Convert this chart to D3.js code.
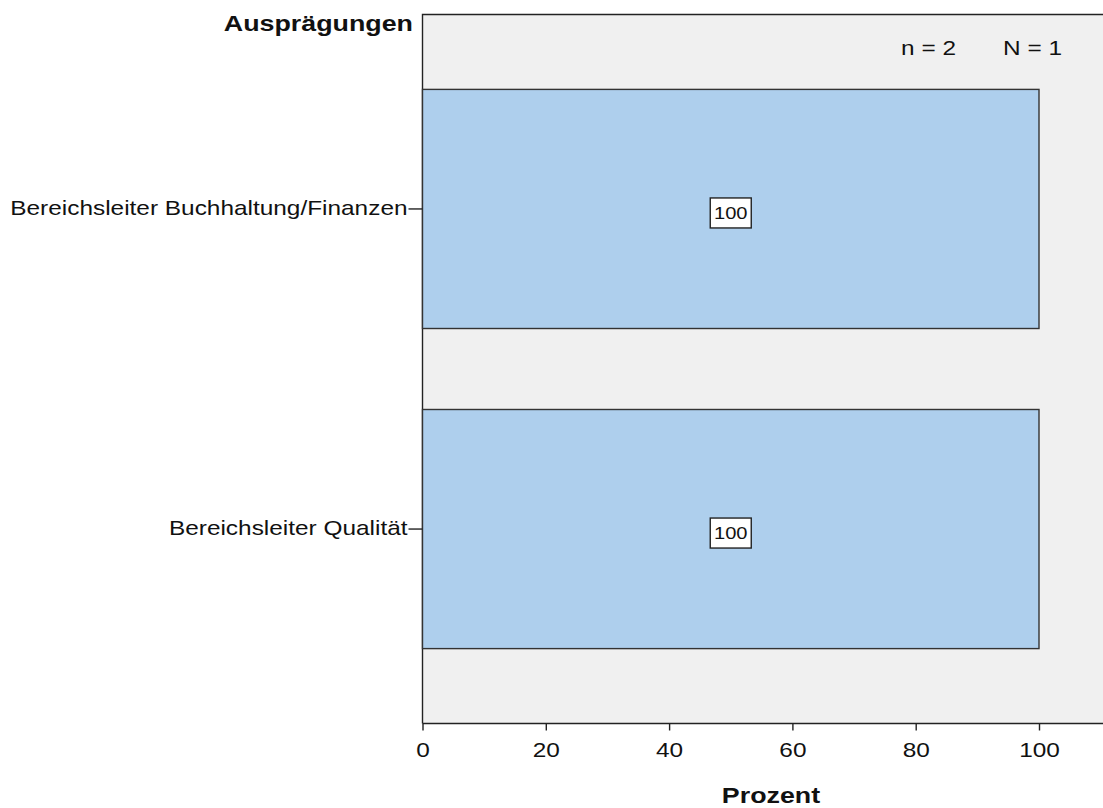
<!DOCTYPE html>
<html>
<head>
<meta charset="utf-8">
<script src="https://cdn.jsdelivr.net/npm/d3@7"></script>
<style>
  html, body { margin: 0; padding: 0; background: #fff; }
  svg { display: block; font-family: "Liberation Sans", Arial, sans-serif; }
</style>
</head>
<body>
<svg id="chart" width="1103" height="808"></svg>
<script>
// Categories and percentages
const categories = ["Bereichsleiter Buchhaltung/Finanzen", "Bereichsleiter Qualität"];
const percentValues = [100, 100];
const xTickValues = [0, 20, 40, 60, 80, 100];
const axisTitleY = "Ausprägungen";
const axisTitleX = "Prozent";
const sampleNotes = ["n = 2", "N = 1"];

const plot = { left: 422.5, top: 14.5, bottom: 723.5, right: 1110 };
const sx = 1.22;        // horizontal text stretch
const fontSize = 20;
const titleSize = 22;
const ink = "#111";

const svg = d3.select("#chart");

const x = d3.scaleLinear().domain([0, 100]).range([plot.left, 1039]);
const y = d3.scaleBand().domain(categories).range([plot.top, plot.bottom])
  .paddingInner(0.253).paddingOuter(0.234);

// stretched text helper
function label(txt, px, py, opts) {
  return svg.append("text")
    .attr("transform", `translate(${px},${py}) scale(${sx},1)`)
    .attr("text-anchor", opts.anchor || "start")
    .attr("font-size", opts.size || fontSize)
    .attr("font-weight", opts.weight || "normal")
    .attr("fill", ink)
    .text(txt);
}

// plot background
svg.append("rect")
  .attr("x", plot.left).attr("y", plot.top)
  .attr("width", plot.right - plot.left).attr("height", plot.bottom - plot.top)
  .attr("fill", "#f0f0f0");

// frame: top and left edges
svg.append("path")
  .attr("d", `M${plot.right},${plot.top}H${plot.left}V${plot.bottom}`)
  .attr("fill", "none").attr("stroke", "#222").attr("stroke-width", 1.4);

// bars
svg.append("g").selectAll("rect").data(categories).join("rect")
  .attr("x", x(0))
  .attr("y", d => y(d))
  .attr("width", (d, i) => x(percentValues[i]) - x(0))
  .attr("height", y.bandwidth())
  .attr("fill", "#aecfed")
  .attr("stroke", "#333").attr("stroke-width", 1.4);

// value labels in boxes
const lab = svg.append("g").selectAll("g").data(categories).join("g")
  .attr("transform", (d, i) => `translate(${x(percentValues[i] / 2)},${y(d) + y.bandwidth() / 2 + 4})`);
lab.append("rect")
  .attr("x", -20.5).attr("y", -15).attr("width", 41).attr("height", 30)
  .attr("fill", "#fff").attr("stroke", "#222").attr("stroke-width", 1.4);
lab.append("text")
  .attr("transform", `scale(${sx},1)`)
  .attr("text-anchor", "middle").attr("dy", "0.36em")
  .attr("font-size", 16.5).attr("fill", ink)
  .text((d, i) => percentValues[i]);

// x axis
const xAxis = svg.append("g")
  .attr("transform", `translate(0,${plot.bottom})`)
  .call(d3.axisBottom(x).tickValues(xTickValues).tickSize(7).tickPadding(12).tickFormat(d3.format("d")));
xAxis.select(".domain").attr("d", `M${plot.left},0H${plot.right}`).attr("stroke", "#222").attr("stroke-width", 1.4);
xAxis.selectAll(".tick line").attr("stroke", "#222").attr("stroke-width", 1.4);
xAxis.selectAll(".tick text")
  .attr("transform", `scale(${sx},1)`)
  .attr("font-size", fontSize).attr("fill", ink)
  .attr("font-family", "Liberation Sans, Arial, sans-serif");

// y axis
const yTick = 14, yPad = 1;
const yAxis = svg.append("g")
  .attr("transform", `translate(${plot.left},0)`)
  .call(d3.axisLeft(y).tickSize(yTick).tickPadding(yPad));
yAxis.select(".domain").remove();
yAxis.selectAll(".tick line").attr("stroke", "#222").attr("stroke-width", 1.4);
yAxis.selectAll(".tick text")
  .attr("x", -(yTick + yPad) / sx)
  .attr("transform", `scale(${sx},1)`)
  .attr("font-size", fontSize).attr("fill", ink)
  .attr("font-family", "Liberation Sans, Arial, sans-serif");

// titles and sample notes
label(axisTitleY, 413, 31, { anchor: "end", weight: "bold", size: titleSize });
label(axisTitleX, 771, 803, { anchor: "middle", weight: "bold", size: titleSize });
label(sampleNotes[0], 956, 55, { anchor: "end" });
label(sampleNotes[1], 1062, 55, { anchor: "end" });
</script>
</body>
</html>
